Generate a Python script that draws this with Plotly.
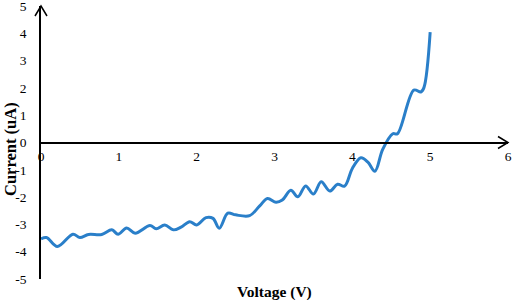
import plotly.graph_objects as go

voltage = [0, 0.07, 0.21, 0.41, 0.5, 0.61, 0.78, 0.91, 0.99, 1.1, 1.21, 1.40, 1.48, 1.59,
           1.70, 1.80, 1.91, 2.0, 2.12, 2.21, 2.29, 2.40, 2.50, 2.68, 2.81, 2.91, 3.02, 3.1,
           3.21, 3.30, 3.40, 3.5, 3.60, 3.71, 3.81, 3.90, 4.0, 4.11, 4.20, 4.29, 4.39, 4.52,
           4.58, 4.79, 4.88, 4.92, 5.0]
current = [-3.53, -3.48, -3.81, -3.36, -3.48, -3.37, -3.37, -3.2, -3.36, -3.13, -3.32, -3.04,
           -3.16, -3.02, -3.2, -3.1, -2.9, -3.02, -2.75, -2.78, -3.14, -2.59, -2.65, -2.68,
           -2.32, -2.05, -2.19, -2.11, -1.75, -1.99, -1.59, -1.89, -1.44, -1.78, -1.53, -1.6,
           -0.95, -0.56, -0.72, -1.05, -0.25, 0.32, 0.32, 1.92, 1.85, 2.01, 4.04]

x_ticks = [0, 1, 2, 3, 4, 5, 6]
y_ticks = [-5, -4, -3, -2, -1, 0, 1, 2, 3, 4, 5]

FONT = "Liberation Serif"
W, H = 512, 300
ML, MR, MT, MB = 41, 4, 6, 21
PW, PH = W - ML - MR, H - MT - MB

fig = go.Figure()
fig.add_trace(go.Scatter(
    x=voltage, y=current, mode="lines",
    line=dict(color="#2a7fc9", width=3, shape="spline", smoothing=1.0),
    showlegend=False, cliponaxis=False, hoverinfo="skip",
))

dx, dy = 1.0 / PW, 1.0 / PH
fig.update_layout(
    width=W, height=H,
    margin=dict(l=ML, r=MR, t=MT, b=MB, autoexpand=False),
    paper_bgcolor="white", plot_bgcolor="white",
    font=dict(family=FONT, size=13, color="black"),
    xaxis=dict(
        range=[0, 6], tickvals=x_ticks, ticktext=[str(v) for v in x_ticks],
        showgrid=False, zeroline=False, showline=True, linecolor="black", linewidth=1.5,
        anchor="free", position=0.5, ticks="", automargin=False,
        ticklabeloverflow="allow", ticklabelstandoff=2,
        tickfont=dict(family=FONT, size=13.5, color="black"),
    ),
    yaxis=dict(
        range=[-5, 5], tickvals=y_ticks, ticktext=[str(v) for v in y_ticks],
        showgrid=False, zeroline=False, showline=True, linecolor="black", linewidth=1.5,
        ticks="", automargin=False, ticklabeloverflow="allow", ticklabelstandoff=10,
        tickfont=dict(family=FONT, size=13.5, color="black"),
    ),
    shapes=[
        dict(type="path", xref="paper", yref="paper", layer="above",
             path=f"M {1-10*dx},{0.5+6*dy} L 1,0.5 L {1-10*dx},{0.5-6*dy}",
             line=dict(color="black", width=1.5)),
        dict(type="path", xref="paper", yref="paper", layer="above",
             path=f"M {-6*dx},{1-10*dy} L 0,1 L {6*dx},{1-10*dy}",
             line=dict(color="black", width=1.5)),
    ],
    annotations=[
        dict(text="<b>Voltage (V)</b>", xref="paper", yref="paper", x=0.5, y=-13 * dy,
             xanchor="center", yanchor="middle", showarrow=False,
             font=dict(family=FONT, size=15.5)),
        dict(text="<b>Current (uA)</b>", xref="paper", yref="paper", x=-31 * dx,
             y=(279 - 149) * dy, xanchor="center", yanchor="middle", showarrow=False,
             textangle=-90, font=dict(family=FONT, size=16.5)),
    ],
)

fig.write_html("out.html", config={"displayModeBar": False},
               post_script="document.body.style.margin='0';")
